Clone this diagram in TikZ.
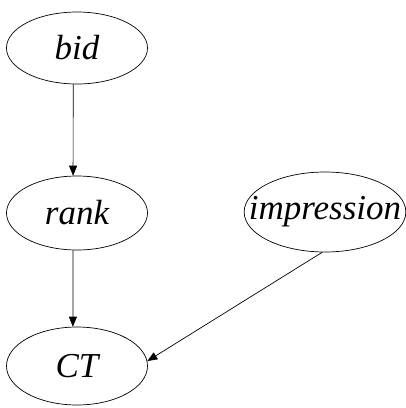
\documentclass[tikz,border=0pt]{standalone}
\usepackage{fontspec}
\setmainfont{Liberation Serif}
\usetikzlibrary{shapes.geometric}
\usetikzlibrary{arrows.meta}
\tikzset{var/.style={draw,ellipse,inner sep=0pt,minimum width=141pt,minimum height=74pt,
    line width=0.7pt,font=\fontsize{35}{40}\selectfont\itshape}}
\tikzset{edge/.style={-{Triangle[length=10pt,width=8pt]},line width=0.7pt}}

\begin{document}
\begin{tikzpicture}[x=1pt,y=-1pt]
                \useasboundingbox (0,0) rectangle (406,408);
                
                % Variables
                \node[var, minimum height=72pt] (bid) at (77,48) {bid};
                \node[var] (rank) at (77,213) {rank};
                \node[var, inner xsep=-19pt, minimum width=157pt, minimum height=80pt] (impression) at (325,212) {impression};
                \node[var, minimum height=78pt] (ct) at (77,366) {CT};
                
                % Edges
                \draw[edge] (bid.264) -- (rank.96);
                \draw[edge] (rank.264) -- (ct.96);
                \draw[edge] (impression.266) -- (ct.4);
            \end{tikzpicture}
\end{document}
